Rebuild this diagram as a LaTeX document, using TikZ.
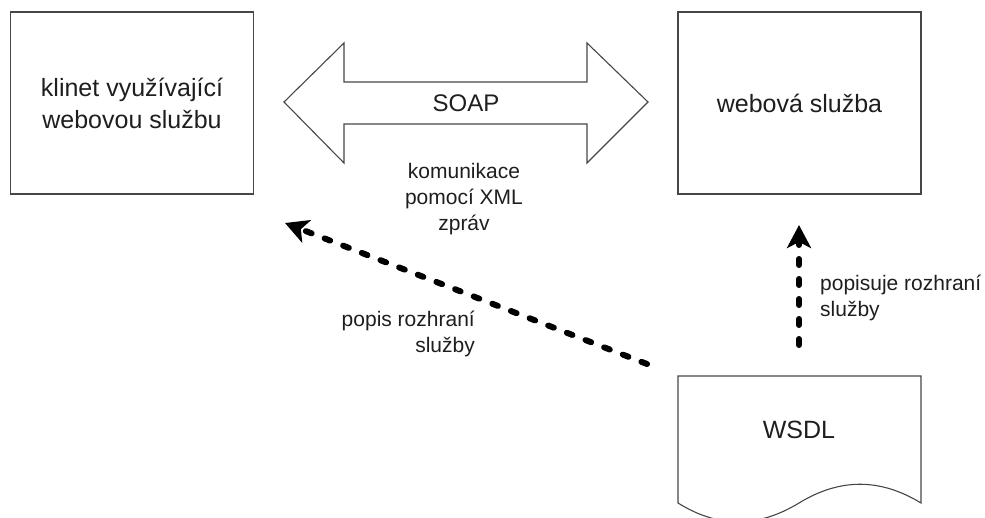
\documentclass[tikz,border=0pt]{standalone}
\usepackage{fontspec}
\setmainfont{Liberation Sans}
\usetikzlibrary{arrows.meta}
\definecolor{edgegray}{RGB}{70,70,70}
\definecolor{txt}{RGB}{30,30,30}
\tikzset{
  box/.style={draw=edgegray, line width=1.3pt, minimum width=243pt, minimum height=182pt, inner sep=0pt, align=center, text=txt, font=\fontsize{25}{32}\selectfont},
  lbl/.style={text=txt, inner sep=0pt, font=\fontsize{21}{26}\selectfont},
  outl/.style={draw=edgegray, line width=1.1pt, line join=miter},
  dasharrow/.style={line width=6pt, line cap=round, dash pattern=on 6pt off 14pt, -{Stealth[length=23pt, width=24pt, inset=6pt]}}
}
\begin{document}
\begin{tikzpicture}[x=1pt, y=-1pt]
\useasboundingbox (0,0) rectangle (985,517);
\clip (0,0) rectangle (985,517);
% boxes
\node[box] (client) at (132,103) {klinet využívající\\webovou službu};
\node[box] (service) at (799.5,103) {webová služba};
% double arrow SOAP
\draw[outl] (284,102) -- (344,43) -- (344,82) -- (587,82) -- (587,43) -- (648,102)
  -- (587,163) -- (587,124) -- (344,124) -- (344,163) -- cycle;
\node[text=txt, inner sep=0pt, font=\fontsize{24}{28}\selectfont] (soap) at (466,103) {SOAP};
\node[lbl, align=center] (komm) at (464,199) {komunikace\\pomocí XML\\zpráv};
% WSDL document
\draw[outl] (678,503) -- (678,376) -- (921,376) -- (921,503)
  .. controls (880,478) and (840,478) .. (799,503)
  .. controls (758,528) and (718,528) .. (678,503) -- cycle;
\node[text=txt, inner sep=0pt, font=\fontsize{25}{30}\selectfont] (wsdl) at (799,430) {WSDL};
% arrows
\coordinate (dstart) at (647,364);
\coordinate (dend) at (285,223);
\coordinate (vstart) at (799,345);
\coordinate (vend) at (799,225);
\draw[dasharrow] (dstart) -- (dend);
\draw[dasharrow] (vstart) -- (vend);
\node[lbl, align=right, anchor=east] (popis) at (475,334) {popis rozhraní\\služby};
\node[lbl, align=left, anchor=west] (popisuje) at (820,298) {popisuje rozhraní\\služby};
\end{tikzpicture}
\end{document}
